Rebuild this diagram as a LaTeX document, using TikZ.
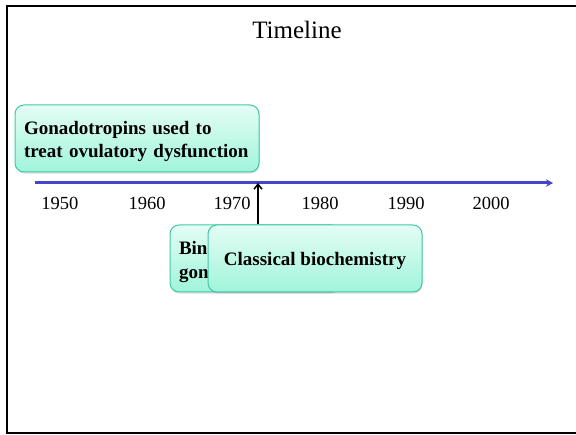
\documentclass[tikz,border=0pt]{standalone}
\usepackage{fontspec}
\setmainfont{Liberation Serif}
\usetikzlibrary{shadows,arrows.meta}
\definecolor{boxborder}{RGB}{64,200,168}
\definecolor{boxtop}{RGB}{228,253,244}
\definecolor{boxbot}{RGB}{160,244,218}
\definecolor{axisblue}{RGB}{68,68,204}
\begin{document}
\begin{tikzpicture}[x=1pt,y=-1pt,
  evbox/.style={draw=boxborder, line width=1pt, rounded corners=9pt,
    top color=boxtop, bottom color=boxbot,
    drop shadow={shadow xshift=0.6pt, shadow yshift=-1.6pt, opacity=0.25},
    font=\fontsize{19}{22.5}\selectfont\bfseries, inner sep=0pt},
  year/.style={font=\fontsize{18.5}{22}\selectfont, inner sep=0pt}]
\useasboundingbox (0,0) rectangle (576,435);
% frame
\draw[line width=2pt] (577,6) -- (7,6) -- (7,433.3) -- (577,433.3);
% title
\node[font=\fontsize{25}{30}\selectfont, inner sep=0pt] (title) at (297,30) {Timeline};
% event box 1
\node[evbox, minimum width=244pt, minimum height=67pt, text width=226pt, align=left] (ev1) at (137,138.5) {\rule{0pt}{19.5pt}Gonadotropins used to\\treat ovulatory dysfunction};
% axis
\coordinate (a0) at (35,183);
\coordinate (a1) at (553,183);
\draw[axisblue, line width=3pt, -{Stealth[length=7pt,width=7.5pt]}] (a0) -- (a1);
% years
\node[year] (y1950) at (60,203) {1950};
\node[year] (y1960) at (147,203) {1960};
\node[year] (y1970) at (232,203) {1970};
\node[year] (y1980) at (320,203) {1980};
\node[year] (y1990) at (406,203) {1990};
\node[year] (y2000) at (491,203) {2000};
% event boxes 2 and 3
\node[evbox, minimum width=170pt, minimum height=67pt, text width=152pt, align=left] (ev2) at (255,258.5) {\rule{0pt}{21pt}Bin\\[1.5pt]gon};
\node[evbox, minimum width=214pt, minimum height=67pt, align=center] (ev3) at (315,258.5) {\rule{0pt}{19pt}Classical biochemistry};
% pointer
\coordinate (t) at (258,183);
\draw[line width=1.5pt, -{Straight Barb[length=5pt,width=8pt]}] (t |- ev3.north) -- (t);
\end{tikzpicture}
\end{document}
